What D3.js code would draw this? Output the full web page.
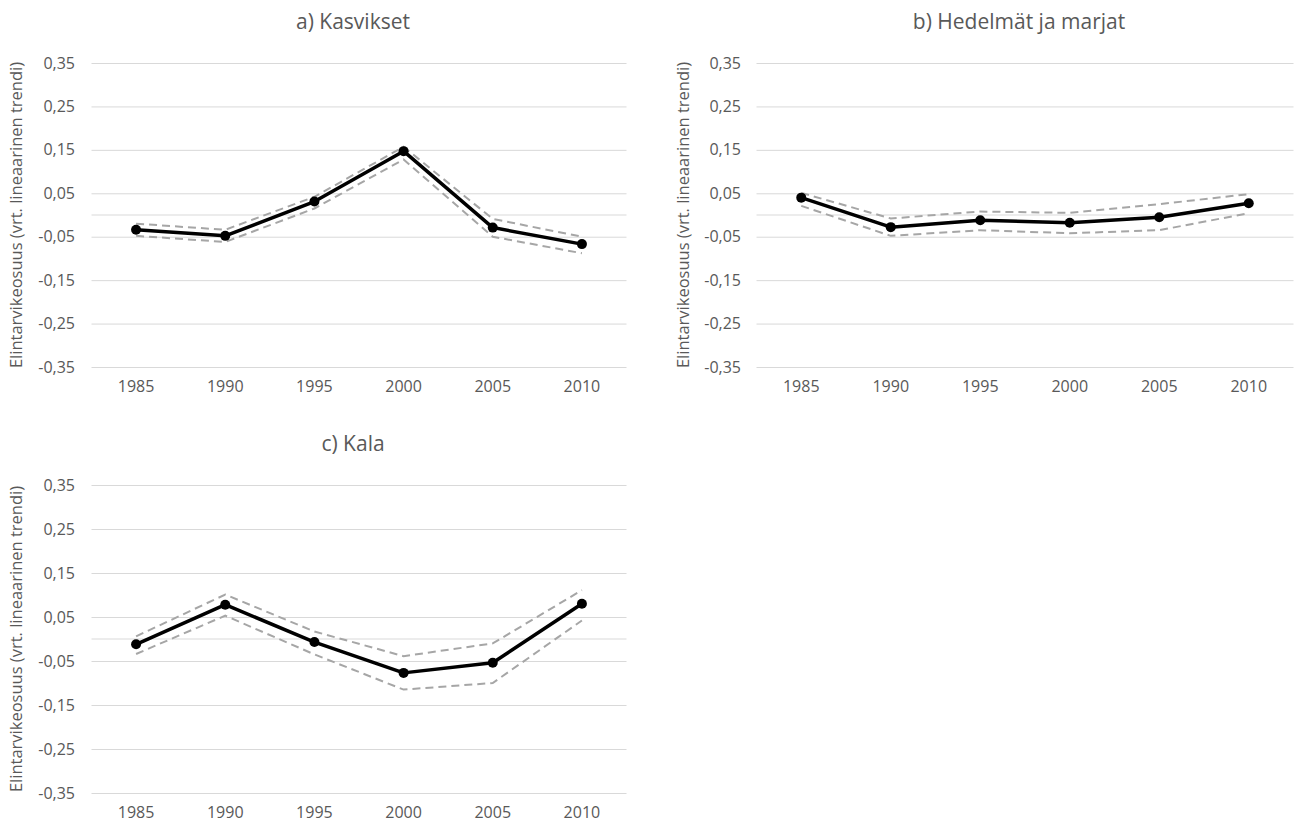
<!DOCTYPE html>
<html>
<head>
<meta charset="utf-8">
<script src="https://cdn.jsdelivr.net/npm/d3@7"></script>
<style>
  html, body { margin: 0; padding: 0; background: #fff; }
  svg { display: block; font-family: "Open Sans", sans-serif; }
</style>
</head>
<body>
<svg id="chart" width="1300" height="823"></svg>
<script>
// ---- data ----
const years = ["1985", "1990", "1995", "2000", "2005", "2010"];
const yTickValues = [0.35, 0.25, 0.15, 0.05, -0.05, -0.15, -0.25, -0.35];
const yTitle = "Elintarvikeosuus (vrt. lineaarinen trendi)";
const panelTitles = ["a) Kasvikset", "b) Hedelmät ja marjat", "c) Kala"];

const kasvikset      = [-0.034, -0.048, 0.031, 0.147, -0.029, -0.067];
const kasviksetUpper = [-0.020, -0.034, 0.042, 0.157, -0.009, -0.050];
const kasviksetLower = [-0.048, -0.062, 0.015, 0.128, -0.050, -0.088];

const hedelmat      = [0.040, -0.028, -0.012, -0.018, -0.005, 0.027];
const hedelmatUpper = [0.051, -0.008, 0.008, 0.005, 0.025, 0.048];
const hedelmatLower = [0.021, -0.048, -0.035, -0.042, -0.035, 0.004];

const kala      = [-0.012, 0.078, -0.007, -0.077, -0.054, 0.080];
const kalaUpper = [0.006, 0.101, 0.017, -0.039, -0.010, 0.111];
const kalaLower = [-0.034, 0.053, -0.035, -0.115, -0.100, 0.042];

// ---- layout ----
const panels = [
  { title: panelTitles[0], main: kasvikset, upper: kasviksetUpper, lower: kasviksetLower,
    x0: 91.5, x1: 626.5, yTop: 63, yBot: 367, titleY: 23, yTitleX: 18, labelRight: 75 },
  { title: panelTitles[1], main: hedelmat, upper: hedelmatUpper, lower: hedelmatLower,
    x0: 756.5, x1: 1293.5, yTop: 63, yBot: 367, titleY: 23, yTitleX: 685, labelRight: 741 },
  { title: panelTitles[2], main: kala, upper: kalaUpper, lower: kalaLower,
    x0: 91.5, x1: 626.5, yTop: 485, yBot: 793, titleY: 445, yTitleX: 18, labelRight: 75 }
];

const svg = d3.select("#chart");
const fmt = v => d3.format(".2f")(v).replace(".", ",").replace("−", "-");
const textColor = "#595959";
const gridColor = "#d9d9d9";

panels.forEach(p => {
  const g = svg.append("g");
  const x = d3.scaleBand().domain(years).range([p.x0, p.x1]);
  const y = d3.scaleLinear().domain([-0.35, 0.35]).range([p.yBot, p.yTop]);
  const cx = d => x(d) + x.bandwidth() / 2;

  // gridlines + y tick labels
  const yAxis = g.append("g")
    .attr("transform", `translate(${p.x0},0)`)
    .call(d3.axisLeft(y).tickValues(yTickValues).tickFormat(fmt)
      .tickSize(-(p.x1 - p.x0)).tickPadding(p.x0 - p.labelRight));
  yAxis.attr("font-size", null).attr("font-family", null);
  yAxis.select(".domain").remove();
  yAxis.selectAll(".tick line").attr("stroke", gridColor).attr("stroke-width", 1);
  yAxis.selectAll(".tick text").attr("fill", textColor)
    .style("font-size", "16px");

  // zero (category axis) line
  g.append("line")
    .attr("x1", p.x0).attr("x2", p.x1)
    .attr("y1", y(0)).attr("y2", y(0))
    .attr("stroke", gridColor).attr("stroke-width", 1);

  // x axis labels (low position)
  const xAxis = g.append("g")
    .attr("transform", `translate(0,${p.yBot})`)
    .call(d3.axisBottom(x).tickSize(0).tickPadding(14));
  xAxis.attr("font-size", null).attr("font-family", null);
  xAxis.select(".domain").remove();
  xAxis.selectAll(".tick text").attr("fill", textColor)
    .style("font-size", "16px");

  // title
  g.append("text")
    .attr("x", (p.x0 + p.x1) / 2 - 6).attr("y", p.titleY)
    .attr("text-anchor", "middle").attr("dominant-baseline", "middle")
    .attr("fill", textColor).style("font-size", "21px")
    .text(p.title);

  // y title
  g.append("text")
    .attr("transform", `translate(${p.yTitleX},${(p.yTop + p.yBot) / 2}) rotate(-90)`)
    .attr("text-anchor", "middle").attr("dominant-baseline", "middle")
    .attr("fill", textColor).style("font-size", "16.5px")
    .text(yTitle);

  const line = d3.line().x((d, i) => cx(years[i])).y(d => y(d));

  // confidence bounds
  [p.upper, p.lower].forEach(arr => {
    g.append("path").datum(arr)
      .attr("d", line)
      .attr("fill", "none")
      .attr("stroke", "#a6a6a6")
      .attr("stroke-width", 2)
      .attr("stroke-dasharray", "8,5");
  });

  // main line
  g.append("path").datum(p.main)
    .attr("d", line)
    .attr("fill", "none")
    .attr("stroke", "#000")
    .attr("stroke-width", 3.5)
    .attr("stroke-linejoin", "round");

  g.selectAll("circle.pt").data(p.main).enter().append("circle")
    .attr("class", "pt")
    .attr("cx", (d, i) => cx(years[i]))
    .attr("cy", d => y(d))
    .attr("r", 5)
    .attr("fill", "#000");
});
</script>
</body>
</html>
